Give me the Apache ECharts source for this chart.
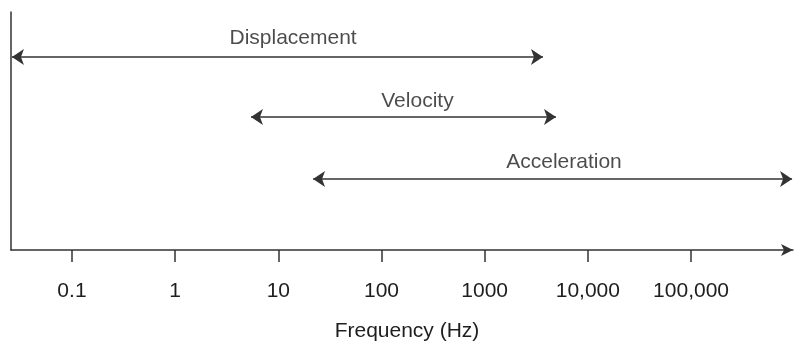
<!DOCTYPE html>
<html>
<head>
<meta charset="utf-8">
<script src="https://cdn.jsdelivr.net/npm/echarts@6/dist/echarts.min.js"></script>
<style>
  html, body { margin: 0; padding: 0; background: #fff; }
  #chart { width: 798px; height: 343px; }
</style>
</head>
<body>
<div id="chart"></div>
<script>
// frequency ranges (Hz)
var bandNames = ['Displacement', 'Velocity', 'Acceleration'];
var bandFrom = [0.0262, 5.43, 21.7];
var bandTo = [3670, 4910, 953000];
var bandLevel = [81.1, 55.9, 29.8];
// where each band's name sits
var labelFreq = [13.9, 223, 5870];
var labelLevel = [88.9, 62.6, 37.0];

var tickFreqs = [0.1, 1, 10, 100, 1000, 10000, 100000];
var tickLabels = ['0.1', '1', '10', '100', '1000', '10,000', '100,000'];
var axisFromHz = 0.02565;
var axisToHz = 973000;

var lg = Math.log10;
var textColor = '#1e1e1e';
var lineColor = '#333333';
var font = 'Liberation Sans, Arial, sans-serif';

var chart = echarts.init(document.getElementById('chart'));

var lineData = bandNames.map(function (n, i) {
  return { name: n, coords: [[lg(bandFrom[i]), bandLevel[i]], [lg(bandTo[i]), bandLevel[i]]] };
});
var labelData = bandNames.map(function (n, i) {
  return { name: n, value: [lg(labelFreq[i]), labelLevel[i]] };
});
var tickPos = tickFreqs.map(lg);

var option = {
  animation: false,
  grid: { left: 11, right: 5, top: 12, bottom: 93, outerBoundsMode: 'none', containLabel: false },
  xAxis: {
    type: 'value',
    min: lg(axisFromHz),
    max: lg(axisToHz),
    name: 'Frequency (Hz)',
    nameLocation: 'middle',
    nameGap: 71,
    nameTextStyle: { color: textColor, fontSize: 21, fontFamily: font, padding: [0, 0, 0, 10] },
    axisLine: {
      show: true, onZero: false,
      symbol: ['none', 'arrow'], symbolSize: [9, 12],
      lineStyle: { color: lineColor, width: 1.5 }
    },
    axisTick: {
      show: true, inside: false, length: 12, customValues: tickPos,
      lineStyle: { color: lineColor, width: 1.5 }
    },
    axisLabel: {
      show: true, margin: 31, customValues: tickPos,
      color: textColor, fontSize: 21, fontFamily: font,
      formatter: function (v) {
        var best = 0;
        tickPos.forEach(function (t, i) {
          if (Math.abs(t - v) < Math.abs(tickPos[best] - v)) best = i;
        });
        return tickLabels[best];
      }
    },
    splitLine: { show: false }
  },
  yAxis: {
    type: 'value',
    min: 0,
    max: 100,
    axisLine: { show: true, onZero: false, lineStyle: { color: lineColor, width: 1.5 } },
    axisTick: { show: false },
    axisLabel: { show: false },
    splitLine: { show: false }
  },
  series: [
    {
      type: 'lines',
      coordinateSystem: 'cartesian2d',
      symbol: ['arrow', 'arrow'],
      symbolSize: 12,
      lineStyle: { color: lineColor, width: 1.5, opacity: 1 },
      data: lineData
    },
    {
      type: 'scatter',
      symbolSize: 0,
      label: {
        show: true, position: 'inside', formatter: '{b}',
        color: textColor, fontSize: 21, fontFamily: font
      },
      data: labelData
    }
  ]
};

chart.setOption(option);
</script>
</body>
</html>
